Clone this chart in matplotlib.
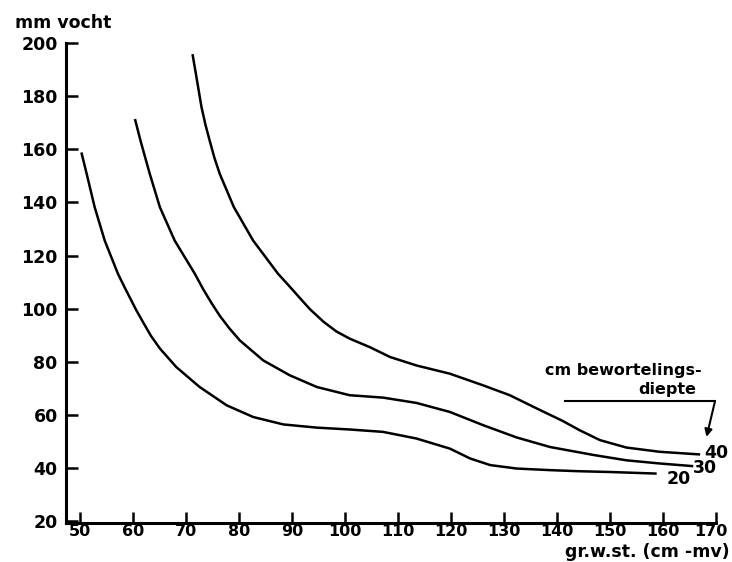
import matplotlib
matplotlib.use("Agg")
import matplotlib.pyplot as plt
import matplotlib.transforms as mtransforms

# ---- data ----
x20 = [50.3, 51.3, 52.8, 54.7, 57.2, 58.5, 59.4, 60.6, 61.9, 63.4, 65.1, 68.2, 72.6, 77.7, 82.7, 88.4,
       94.7, 100.9, 107.2, 113.5, 119.8, 123.6, 127.4, 132.4, 138.7, 144.0, 150.0, 158.8]
y20 = [158.8, 150.7, 138.2, 125.6, 113.1, 107.8, 104.3, 99.6, 95.0, 89.8, 85.0, 78.0, 70.5, 63.6, 59.2, 56.4,
       55.2, 54.5, 53.6, 51.1, 47.3, 43.6, 41.1, 39.8, 39.2, 38.8, 38.5, 37.9]

x30 = [60.4, 61.45, 63.2, 65.1, 67.9, 71.7, 73.3, 74.9, 76.4, 78.2, 80.2, 84.6, 89.6, 94.7, 100.9,
       107.2, 113.5, 119.8, 126.1, 132.4, 138.7, 146.9, 153.1, 159.4, 165.7]
y30 = [171.4, 163.2, 150.7, 138.2, 125.6, 113.1, 107.2, 101.9, 97.3, 92.6, 88.0, 80.5, 74.9, 70.5, 67.4,
       66.5, 64.5, 61.1, 56.1, 51.5, 47.9, 44.9, 42.9, 41.7, 40.7]

x40 = [71.26, 71.9, 72.96, 73.7, 74.5, 75.4, 76.4, 79.06, 82.7, 87.4, 89.5, 91.5, 93.4, 96.0, 98.4,
       100.9, 104.7, 108.5, 113.5, 119.8, 126.1, 131.1, 136.2, 141.0, 144.3, 148.1, 153.1, 159.4, 167.0]
y40 = [195.8, 188.3, 175.8, 169.2, 163.2, 156.7, 150.7, 138.2, 125.6, 113.1, 108.5, 104.0, 99.8, 95.0, 91.4,
       88.7, 85.5, 81.8, 78.6, 75.5, 71.1, 67.4, 62.4, 57.8, 54.2, 50.5, 47.7, 46.1, 45.1]

curve_labels = ["20", "30", "40"]
xticks = [50, 60, 70, 80, 90, 100, 110, 120, 130, 140, 150, 160, 170]
yticks = [20, 40, 60, 80, 100, 120, 140, 160, 180, 200]

plt.rcParams['font.family'] = ['DejaVu Sans']
plt.rcParams['font.weight'] = 'bold'

fig = plt.figure(figsize=(7.32, 5.62), dpi=100)
ax = fig.add_axes([0.0902, 0.0694, 0.888, 0.8541])

lw = 1.8
for xs, ys in [(x20, y20), (x30, y30), (x40, y40)]:
    ax.plot(xs, ys, color='black', lw=lw, solid_capstyle='butt', solid_joinstyle='round')

ax.set_xlim(47.4, 170)
ax.set_ylim(19.3, 200)
ax.set_xticks(xticks)
ax.set_yticks(yticks)
ax.set_xticklabels([str(v) for v in xticks], fontweight='bold')
ax.set_yticklabels([str(v) for v in yticks], fontweight='bold')

for s in ['top', 'right']:
    ax.spines[s].set_visible(False)
for s in ['left', 'bottom']:
    ax.spines[s].set_linewidth(2.2)

ax.tick_params(axis='y', direction='in', length=8.5, width=1.8, pad=6, labelsize=12.5)
ax.tick_params(axis='x', direction='in', length=8, width=1.8, pad=0.5, labelsize=11.5)

# nudge the last x tick label left so it stays inside the figure
last = ax.get_xticklabels()[-1]
last.set_transform(last.get_transform() + mtransforms.ScaledTranslation(-4 / 72, 0, fig.dpi_scale_trans))

# curve labels
ax.text(167.7, 45.8, curve_labels[2], fontsize=12.5, va='center', ha='left', fontweight='bold')
ax.text(165.7, 40.1, curve_labels[1], fontsize=12.5, va='center', ha='left', fontweight='bold')
ax.text(160.7, 35.8, curve_labels[0], fontsize=12.5, va='center', ha='left', fontweight='bold')

# annotation
ax.text(137.7, 74.9, "cm bewortelings-", fontsize=11.5, va='baseline', ha='left', fontweight='bold')
ax.text(166.3, 68.0, "diepte", fontsize=11.5, va='baseline', ha='right', fontweight='bold')
ax.plot([141.5, 169.8], [65.1, 65.1], color='black', lw=1.5)
ax.annotate("", xy=(168.2, 51.7), xytext=(169.8, 65.1),
            arrowprops=dict(arrowstyle='-|>', color='black', lw=1.5, mutation_scale=11,
                            shrinkA=0, shrinkB=0))

fig.text(0.0205, 0.9493, "mm vocht", fontsize=12.5, va='baseline', ha='left', fontweight='bold')
fig.text(0.9973, 0.0089, "gr.w.st. (cm -mv)", fontsize=12.5, va='baseline', ha='right',
         fontweight='bold')

fig.savefig("out.png", dpi=100)
